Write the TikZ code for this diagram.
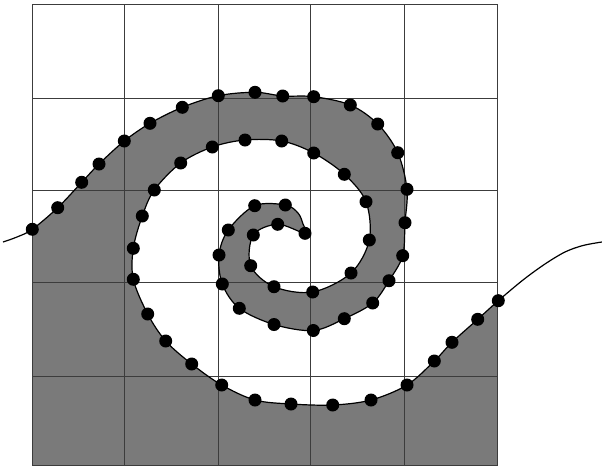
\documentclass[tikz,border=0pt]{standalone}
\definecolor{fluid}{RGB}{122,122,122}
\definecolor{gridc}{RGB}{60,60,60}
\tikzset{
  gridline/.style={draw=gridc, line width=1pt},
  profile/.style={draw=black, line width=1.2pt},
  marker/.style={fill=black},
}
\begin{document}
\begin{tikzpicture}[x=1pt,y=-1pt]
\useasboundingbox (0,0) rectangle (602,469);
% fluid region
\fill[fluid] plot[smooth, tension=0.55] coordinates {
(32.3,229.3) (57.7,207.7) (81.7,182.3) (99,164) (124.3,141) (150,123.3) (182.3,107.3) (218.3,95.7) (255,92.3) (282.7,96) (313.7,96.7) (350.3,105) (377.7,124) (397.7,152.7) (407,189.3) (405,222.7) (402.7,255.7) (389,280.7) (372.7,303) (344.3,318.7) (313.3,330.5) (274,324.5) (239.3,308.3) (222.3,284) (219,255) (228.3,230) (254.7,205.7) (285.3,205) (298,213) (303,224) (305,233.3) (277.7,224.3) (253.3,235) (250.7,265.7) (274,286.7) (312.7,292) (351,273) (369.3,240) (366,201.7) (344.3,174.3) (313.7,153) (281.7,141) (245,140) (212.3,147) (180.7,163) (154.3,190) (142.3,216) (133.3,248.3) (133.3,279.3) (147.7,314) (165.7,341) (191.7,364) (221.7,385) (255,400) (291,404) (332.7,405) (371,400) (407,385) (434.3,361) (452,342.3) (477.7,319.3) (498.3,300.7)}
 -- (497,300.7) -- (497,465.7) -- (32,465.7) -- (32,229.3) -- cycle;
% grid
\foreach \gx in {32,124.3,218.3,310.3,404.3,497} \draw[gridline] (\gx,4.3) -- (\gx,465.7);
\foreach \gy in {4.3,98.3,190.3,282.7,376,465.7} \draw[gridline] (32,\gy) -- (497,\gy);
% interface
\draw[profile] plot[smooth, tension=0.55] coordinates {
(3,242) (17,237) (32.3,229.3) (57.7,207.7) (81.7,182.3) (99,164) (124.3,141) (150,123.3) (182.3,107.3) (218.3,95.7) (255,92.3) (282.7,96) (313.7,96.7) (350.3,105) (377.7,124) (397.7,152.7) (407,189.3) (405,222.7) (402.7,255.7) (389,280.7) (372.7,303) (344.3,318.7) (313.3,330.5) (274,324.5) (239.3,308.3) (222.3,284) (219,255) (228.3,230) (254.7,205.7) (285.3,205) (298,213) (303,224) (305,233.3) (277.7,224.3) (253.3,235) (250.7,265.7) (274,286.7) (312.7,292) (351,273) (369.3,240) (366,201.7) (344.3,174.3) (313.7,153) (281.7,141) (245,140) (212.3,147) (180.7,163) (154.3,190) (142.3,216) (133.3,248.3) (133.3,279.3) (147.7,314) (165.7,341) (191.7,364) (221.7,385) (255,400) (291,404) (332.7,405) (371,400) (407,385) (434.3,361) (452,342.3) (477.7,319.3) (498.3,300.7) (523,280) (545,264) (565,252) (583,245.5) (602,242)};
% markers
\foreach \p in {(32.3,229.3),(57.7,207.7),(81.7,182.3),(99,164),(124.3,141),(150,123.3),(182.3,107.3),(218.3,95.7),(255,92.3),(282.7,96),(313.7,96.7),(350.3,105),(377.7,124),(397.7,152.7),(407,189.3),(405,222.7),(402.7,255.7),(389,280.7),(372.7,303),(344.3,318.7),(313.3,330.5),(274,324.5),(239.3,308.3),(222.3,284),(219,255),(228.3,230),(254.7,205.7),(285.3,205),(305,233.3),(277.7,224.3),(253.3,235),(250.7,265.7),(274,286.7),(312.7,292),(351,273),(369.3,240),(366,201.7),(344.3,174.3),(313.7,153),(281.7,141),(245,140),(212.3,147),(180.7,163),(154.3,190),(142.3,216),(133.3,248.3),(133.3,279.3),(147.7,314),(165.7,341),(191.7,364),(221.7,385),(255,400),(291,404),(332.7,405),(371,400),(407,385),(434.3,361),(452,342.3),(477.7,319.3),(498.3,300.7)}
  \fill[marker] \p circle (6.5);
\end{tikzpicture}
\end{document}
